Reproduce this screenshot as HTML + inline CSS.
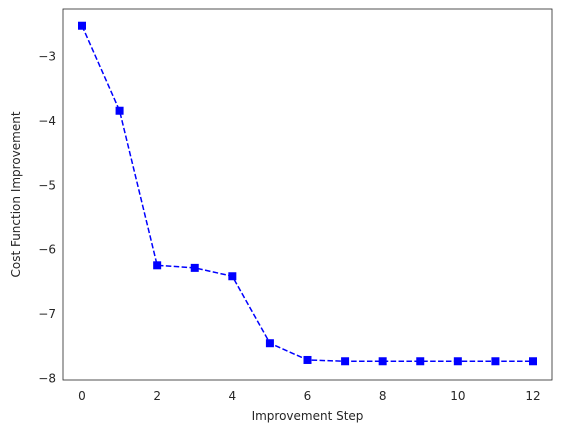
<!DOCTYPE html>
<html><head><meta charset="utf-8"><style>
body{margin:0;background:#fff;}
svg text{font-family:"DejaVu Sans","Liberation Sans",sans-serif;font-size:12px;fill:#262626;}
</style></head><body>
<svg id="chart" width="565" height="432" xmlns="http://www.w3.org/2000/svg">
<rect x="0" y="0" width="565" height="432" fill="#fff"/>
<g id="plot"></g>
</svg>
<script>
const steps=[0,1,2,3,4,5,6,7,8,9,10,11,12];
const costValues=[-2.53,-3.85,-6.25,-6.29,-6.42,-7.46,-7.72,-7.74,-7.74,-7.74,-7.74,-7.74,-7.74];
const xTicks=[0,2,4,6,8,10,12];
const yTicks=[-8,-7,-6,-5,-4,-3];
const L=63,R=552,T=9,B=380;
const xs=v=>82+(v-0)*(533-82)/12;
const ys=v=>56+(-3-v)*(378-56)/5;
const NS="http://www.w3.org/2000/svg";
const g=document.getElementById('plot');
function mk(t,a){const e=document.createElementNS(NS,t);for(const k in a)e.setAttribute(k,a[k]);g.appendChild(e);return e;}
const frame=mk('rect',{x:L,y:T,width:R-L,height:B-T,fill:'none',stroke:'#262626','stroke-width':0.8});


xTicks.forEach(v=>{const t=mk('text',{x:xs(v),y:B+20,'text-anchor':'middle'});t.textContent=v;

});
yTicks.forEach(v=>{const t=mk('text',{x:L-7,y:ys(v)+4.5,'text-anchor':'end'});t.textContent=(v<0?'\u2212':'')+Math.abs(v);

});
const xt=mk('text',{x:(L+R)/2,y:420,'text-anchor':'middle'});xt.textContent='Improvement Step';


const yt=mk('text',{x:0,y:0,'text-anchor':'middle',transform:`translate(20,${(T+B)/2}) rotate(-90)`});yt.textContent='Cost Function Improvement';


const line=mk('polyline',{points:steps.map((s,i)=>xs(s)+','+ys(costValues[i])).join(' '),fill:'none',stroke:'#0000ff','stroke-width':1.5,'stroke-dasharray':'5.5,2.4'});


steps.forEach((s,i)=>{const m=mk('rect',{x:xs(s)-4,y:ys(costValues[i])-4,width:8,height:8,fill:'#0000ff'});

});
</script>
</body></html>
